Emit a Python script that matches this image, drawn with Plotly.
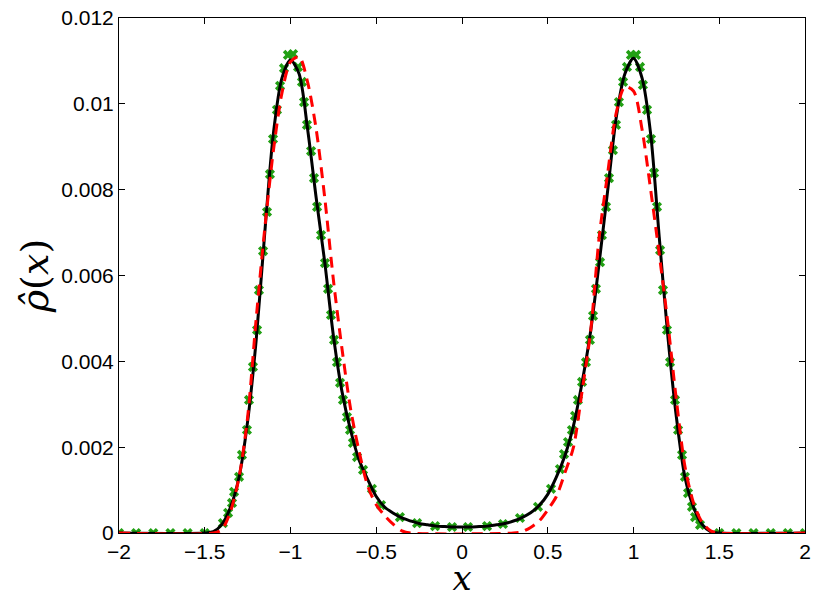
import plotly.graph_objects as go

# ---- continuous solution (black, solid) ----
curve_x = [-2.0, -1.5, -1.45, -1.4, -1.35, -1.3, -1.25, -1.2, -1.15, -1.1, -1.05, -1.0,
           -0.95, -0.9, -0.85, -0.8, -0.75, -0.7, -0.65, -0.6, -0.55, -0.5, -0.45, -0.4,
           -0.35, -0.3, -0.25, -0.2, -0.15, -0.1, -0.05, 0.0, 0.05, 0.1, 0.15, 0.2, 0.25,
           0.3, 0.35, 0.4, 0.45, 0.5, 0.55, 0.6, 0.65, 0.7, 0.75, 0.8, 0.85, 0.9, 0.95,
           1.0, 1.05, 1.1, 1.15, 1.2, 1.25, 1.3, 1.35, 1.4, 1.45, 1.5, 2.0]

black_y = [0.0, 0.0, 0.00003, 0.0002, 0.0006, 0.0013, 0.0026, 0.0045, 0.0070, 0.0093, 0.0106, 0.01102,
           0.0107, 0.0094, 0.0078, 0.0063, 0.0046, 0.0033, 0.0024, 0.0017, 0.00125, 0.00085, 0.0006, 0.00046,
           0.00035, 0.00028, 0.00022, 0.00019, 0.00016, 0.00015, 0.00014, 0.00014, 0.00014, 0.00015, 0.00016, 0.00019, 0.00022,
           0.00028, 0.00036, 0.00047, 0.00064, 0.0009, 0.0013, 0.0018, 0.0025, 0.0035, 0.0047, 0.0063, 0.0080, 0.0097, 0.0107,
           0.01106, 0.0106, 0.0093, 0.0069, 0.0046, 0.0027, 0.0013, 0.0006, 0.0002, 0.00003, 0.0, 0.0]

# ---- comparison curve (red, dashed) ----
red_x = [-2.0, -1.45, -1.4, -1.35, -1.3, -1.25, -1.2, -1.15, -1.1, -1.05, -1.0,
         -0.95, -0.9, -0.85, -0.8, -0.75, -0.7, -0.65, -0.6, -0.55, -0.5, -0.45, -0.4,
         -0.35, -0.3, 0.3, 0.35, 0.4, 0.45, 0.5, 0.55, 0.6, 0.65, 0.7, 0.75, 0.8, 0.85,
         0.9, 0.95, 1.0, 1.05, 1.1, 1.15, 1.2, 1.25, 1.3, 1.35, 1.4, 1.45, 1.5, 2.0]

red_y = [0.0, 0.0, 0.00008, 0.0005, 0.0013, 0.0027, 0.0050, 0.0071, 0.0089, 0.01025, 0.01098,
         0.0111, 0.0105, 0.0094, 0.0078, 0.0059, 0.0043, 0.0029, 0.0019, 0.0011, 0.00066, 0.0004, 0.0002,
         0.00005, 0.0, 0.0, 0.00003, 0.00013, 0.00028, 0.00054, 0.00085, 0.0014, 0.0020, 0.0033, 0.0047, 0.0069, 0.0084,
         0.0098, 0.0104, 0.0103, 0.0094, 0.0080, 0.0065, 0.0049, 0.0031, 0.00155, 0.0007, 0.00025, 0.00005, 0.0, 0.0]

# ---- particle values (green crosses) ----
marker_x = [-2.0, -1.9, -1.8, -1.7, -1.6, -1.5,
            -1.394, -1.364, -1.341, -1.329, -1.300, -1.283, -1.254, -1.242, -1.219, -1.195,
            -1.184, -1.160, -1.137, -1.120, -1.102, -1.079, -1.061, -1.038, -1.015,
            -0.985, -0.956, -0.933, -0.921, -0.904, -0.880, -0.863, -0.845, -0.822, -0.799,
            -0.781, -0.764, -0.746, -0.729, -0.711, -0.694, -0.671, -0.653, -0.636, -0.612,
            -0.577, -0.525, -0.472,
            -0.362, -0.262, -0.157, -0.058, 0.035, 0.146, 0.239, 0.338, 0.443,
            0.519, 0.571, 0.595, 0.618, 0.641, 0.659, 0.676, 0.700, 0.723, 0.746, 0.764,
            0.781, 0.805, 0.816, 0.840, 0.857, 0.880, 0.898, 0.915, 0.939, 0.962, 0.985,
            1.015, 1.038, 1.055, 1.079, 1.102, 1.120, 1.137, 1.155, 1.172, 1.195, 1.213,
            1.242, 1.260, 1.283, 1.300, 1.318, 1.341, 1.359, 1.388,
            1.5, 1.6, 1.7, 1.8, 1.9, 2.0]

marker_y = [0.0, 0.0, 0.0, 0.0, 0.0, 0.0,
            0.00023, 0.00047, 0.00070, 0.00096, 0.00131, 0.00182, 0.00240, 0.00310, 0.00387, 0.00473,
            0.00566, 0.00657, 0.00748, 0.00836, 0.00918, 0.00986, 0.01042, 0.01083, 0.01114,
            0.01116, 0.01086, 0.01051, 0.01004, 0.00951, 0.00890, 0.00827, 0.00760, 0.00694, 0.00629,
            0.00569, 0.00508, 0.00450, 0.00398, 0.00350, 0.00310, 0.00270, 0.00240, 0.00210, 0.00177,
            0.00147, 0.00103, 0.00065,
            0.00037, 0.00023, 0.00016, 0.00014, 0.00014, 0.00016, 0.00021, 0.00035, 0.00061,
            0.00103, 0.00149, 0.00184, 0.00212, 0.00240, 0.00273, 0.00310, 0.00352, 0.00398, 0.00450, 0.00506,
            0.00569, 0.00631, 0.00694, 0.00760, 0.00827, 0.00892, 0.00951, 0.01004, 0.01051, 0.01086, 0.01114,
            0.01114, 0.01086, 0.01044, 0.00986, 0.00918, 0.00839, 0.00760, 0.00659, 0.00566, 0.00473, 0.00398,
            0.00310, 0.00240, 0.00182, 0.00131, 0.00093, 0.00061, 0.00037, 0.00019,
            0.0, 0.0, 0.0, 0.0, 0.0, 0.0]

x_ticks = [-2, -1.5, -1, -0.5, 0, 0.5, 1, 1.5, 2]
x_tick_text = ["\u22122", "\u22121.5", "\u22121", "\u22120.5", "0", "0.5", "1", "1.5", "2"]
y_ticks = [0, 0.002, 0.004, 0.006, 0.008, 0.01, 0.012]
y_tick_text = ["0", "0.002", "0.004", "0.006", "0.008", "0.01", "0.012"]

fig = go.Figure()
fig.add_trace(go.Scatter(x=marker_x, y=marker_y, mode="markers",
                         marker=dict(symbol="x", size=9, color="rgb(34,160,20)",
                                     line=dict(width=0)),
                         name="particles", showlegend=False))
fig.add_trace(go.Scatter(x=curve_x, y=black_y, mode="lines",
                         line=dict(color="black", width=3, shape="spline", smoothing=0.8),
                         name="exact", showlegend=False))
fig.add_trace(go.Scatter(x=red_x, y=red_y, mode="lines",
                         line=dict(color="rgb(255,0,0)", width=3, dash="11px,7px",
                                   shape="spline", smoothing=0.8),
                         name="approx", showlegend=False))

axis_font = dict(family="Liberation Sans, Arial, sans-serif", size=21, color="black")
# the page body adds an 8px offset, so the figure is 8px smaller than the window
fig.update_layout(
    width=822, height=590,
    margin=dict(l=111, r=25, t=10, b=65, autoexpand=False),
    paper_bgcolor="white", plot_bgcolor="white",
    xaxis=dict(range=[-2, 2], tickvals=x_ticks, ticktext=x_tick_text, automargin=False,
               showgrid=False, zeroline=False, showline=True, linecolor="black",
               linewidth=1, mirror="ticks", ticks="inside", ticklen=6,
               tickcolor="black", tickfont=axis_font, ticklabeloverflow="allow",
               title=dict(text="<i>x</i>", standoff=0,
                          font=dict(family="DejaVu Serif, serif", size=34, color="black"))),
    yaxis=dict(range=[0, 0.012], tickvals=y_ticks, ticktext=y_tick_text, automargin=False,
               showgrid=False, zeroline=False, showline=True, linecolor="black",
               linewidth=1, mirror="ticks", ticks="inside", ticklen=6,
               tickcolor="black", tickfont=axis_font, ticklabeloverflow="allow",
               title=dict(text="<i>\u03c1\u0302</i>(<i>x</i>)", standoff=0,
                          font=dict(family="DejaVu Serif, serif", size=38, color="black"))),
)

fig.write_html("out.html")
